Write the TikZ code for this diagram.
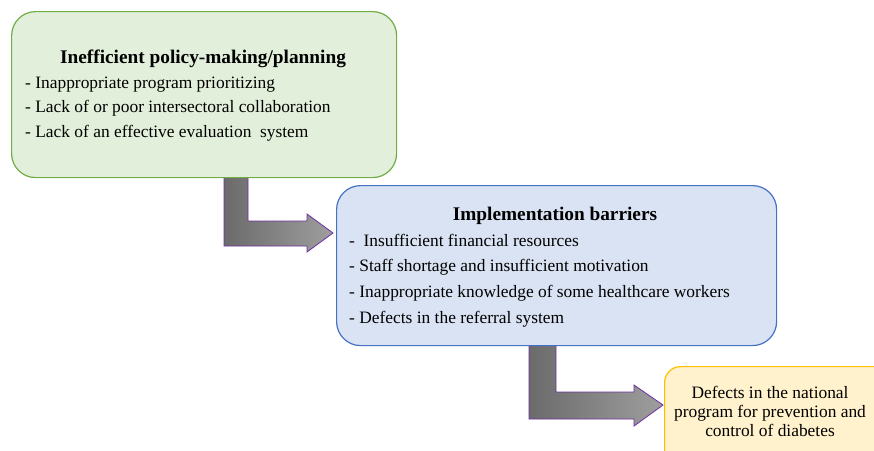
\documentclass[tikz,border=0pt]{standalone}
\usepackage{fontspec}
\setmainfont{Liberation Serif}
\definecolor{gfill}{HTML}{E2EFDA}
\definecolor{gline}{HTML}{70AD47}
\definecolor{bfill}{HTML}{DAE3F3}
\definecolor{bline}{HTML}{4472C4}
\definecolor{yfill}{HTML}{FFF2CC}
\definecolor{yline}{HTML}{FFC000}
\definecolor{aline}{HTML}{7030A0}
\begin{document}
\begin{tikzpicture}[x=1pt,y=-1pt,
  box/.style={draw, line width=1.2pt, rounded corners=24pt},
  body/.style={anchor=base west, inner sep=0pt, font=\fontsize{17.4}{19}\selectfont},
  cbody/.style={anchor=base, inner sep=0pt, font=\fontsize{17.4}{19}\selectfont},
  ttl/.style={anchor=base, inner sep=0pt, font=\bfseries\fontsize{19.3}{21}\selectfont},
  barrow/.style={draw=aline, line width=0.8pt, left color=black!58, right color=black!38}]
\useasboundingbox (0,0) rectangle (874,450);
% arrows
\draw[barrow] (224,170) -- (248,170) -- (248,221) -- (307,221) -- (307,214) -- (333,233) -- (307,252) -- (307,246) -- (224,246) -- cycle;
\draw[barrow] (529,340) -- (556,340) -- (556,392) -- (634,392) -- (634,385) -- (663,405) -- (634,426) -- (634,419) -- (529,419) -- cycle;
% boxes
\node[box, draw=gline, fill=gfill, minimum width=385pt, minimum height=166pt, anchor=north west] (b1) at (11,11) {};
\node[box, draw=bline, fill=bfill, minimum width=440pt, minimum height=160pt, anchor=north west] (b2) at (336,185) {};
\node[box, draw=yline, fill=yfill, minimum width=230pt, minimum height=110pt, anchor=north west, rounded corners=16pt] (b3) at (664,366) {};
% texts box1
\node[ttl] (t1) at (203,63) {Inefficient policy-making/planning};
\node[body] (l11) at (25,88) {- Inappropriate program prioritizing};
\node[body] (l12) at (25,112) {- Lack of or poor intersectoral collaboration};
\node[body] (l13) at (25,137) {- Lack of an effective evaluation\ \ system};
% texts box2
\node[ttl] (t2) at (555,220) {Implementation barriers};
\node[body] (l21) at (349,246) {-\ \ Insufficient financial resources};
\node[body] (l22) at (349,271) {- Staff shortage and insufficient motivation};
\node[body] (l23) at (349,297) {- Inappropriate knowledge of some healthcare workers};
\node[body] (l24) at (349,323) {- Defects in the referral system};
% box3
\node[cbody] (t31) at (770,398) {Defects in the national};
\node[cbody] (t32) at (770,417) {program for prevention and};
\node[cbody] (t33) at (770,436) {control of diabetes};
\end{tikzpicture}
\end{document}
